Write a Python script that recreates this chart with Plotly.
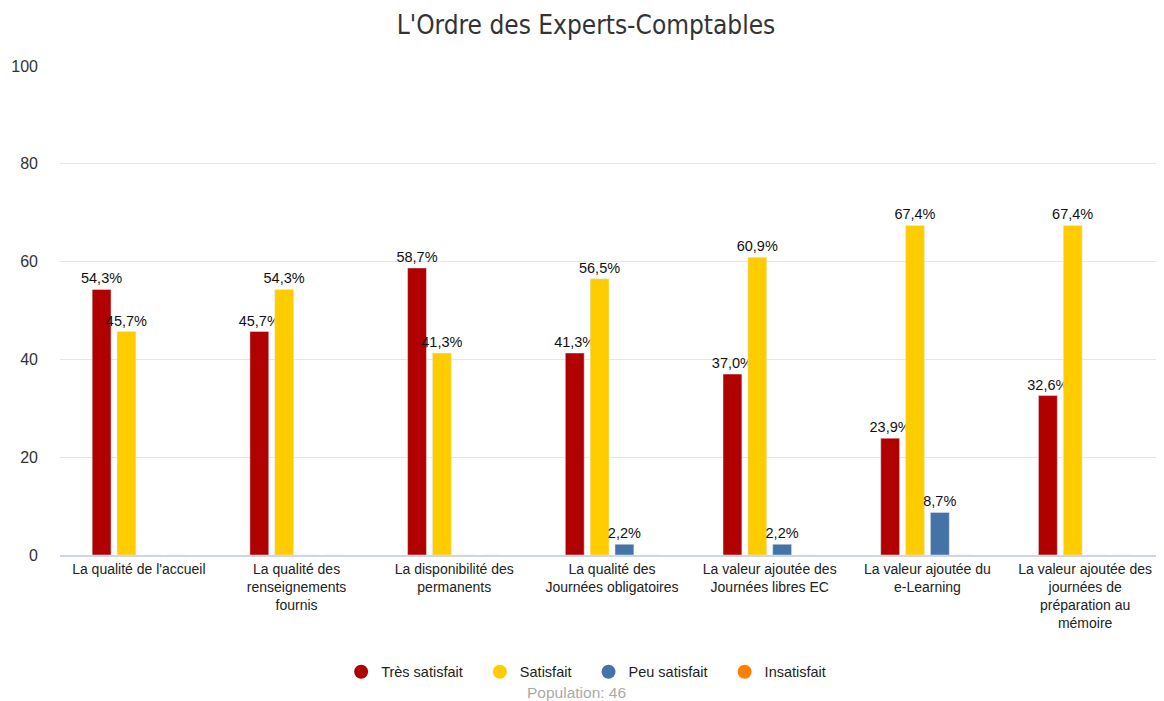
import plotly.graph_objects as go

categories = [
    "La qualité de l'accueil",
    "La qualité des<br>renseignements<br>fournis",
    "La disponibilité des<br>permanents",
    "La qualité des<br>Journées obligatoires",
    "La valeur ajoutée des<br>Journées libres EC",
    "La valeur ajoutée du<br>e-Learning",
    "La valeur ajoutée des<br>journées de<br>préparation au<br>mémoire",
]
tres_satisfait = [54.3, 45.7, 58.7, 41.3, 37.0, 23.9, 32.6]
satisfait = [45.7, 54.3, 41.3, 56.5, 60.9, 67.4, 67.4]
peu_satisfait = [0, 0, 0, 2.2, 2.2, 8.7, 0]
insatisfait = [0, 0, 0, 0, 0, 0, 0]

series = [
    ("Très satisfait", tres_satisfait, "#b00000"),
    ("Satisfait", satisfait, "#ffcc00"),
    ("Peu satisfait", peu_satisfait, "#4572a7"),
    ("Insatisfait", insatisfait, "#ff8000"),
]


def fmt(v):
    return ("%.1f%%" % v).replace(".", ",") if v > 0 else ""


pad = "\u00a0" * 3

fig = go.Figure()
for name, vals, col in series:
    fig.add_trace(go.Bar(
        x=categories, y=vals, name=name, marker_color=col,
        text=[fmt(v) for v in vals], textposition="outside",
        constraintext="none", cliponaxis=False,
        textfont=dict(family="Liberation Sans", size=14.5, color="#111"),
        showlegend=False, hoverinfo="x+y",
    ))
    # circle markers for the legend
    fig.add_trace(go.Scatter(
        x=[None], y=[None], mode="markers", name=name + pad,
        marker=dict(color=col, size=14, symbol="circle"),
    ))

# the page body adds an 8px offset, so the figure is 8px smaller
fig.update_layout(
    width=1156, height=693,
    paper_bgcolor="white", plot_bgcolor="white",
    title=dict(text="L'Ordre des Experts-Comptables", x=0.5, xanchor="center",
               y=0.975, yanchor="middle",
               font=dict(family="DejaVu Sans Condensed", size=26, color="#333")),
    margin=dict(l=52, r=0, t=58, b=146),
    barmode="group", bargap=0.37, bargroupgap=0.24,
    font=dict(family="Liberation Sans", size=14.5, color="#222"),
    legend=dict(orientation="h", x=0.482, xanchor="center", y=-0.239, yanchor="middle",
                font=dict(family="Liberation Sans", size=14.5, color="#222"),
                itemwidth=30, tracegroupgap=0),
    annotations=[dict(text="Population: 46", x=0.468, xref="paper", y=-0.282, yref="paper",
                      yanchor="middle", showarrow=False,
                      font=dict(family="Liberation Sans", size=15.5, color="#aaa"))],
)
fig.update_yaxes(range=[0, 100], dtick=20, gridcolor="#e6e6e6", gridwidth=1,
                 zeroline=False, tickfont=dict(size=16, color="#333"), ticklabelstandoff=21)
fig.update_xaxes(range=[-0.5, 6.5], showline=True, linecolor="#ccd6eb", linewidth=2,
                 ticks="", tickfont=dict(size=14, color="#222"))

fig.write_html("out.html")
